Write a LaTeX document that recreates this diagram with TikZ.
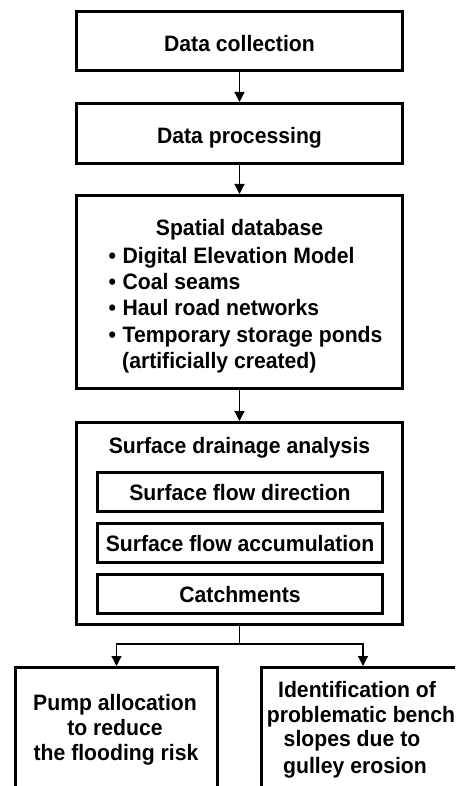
\documentclass[tikz,border=0pt]{standalone}
\usepackage{fontspec}
\setmainfont{Liberation Sans}
\usetikzlibrary{arrows.meta}
\newcommand{\sxtext}[1]{\scalebox{0.95}[1]{#1}}
\tikzset{
  box/.style={draw=black, line width=3pt, rectangle, inner sep=0pt, fill=white},
  lbl/.style={inner sep=0pt, anchor=base, font=\fontsize{22.3}{26}\selectfont\bfseries},
  lbll/.style={lbl, anchor=base west},
  arr/.style={line width=1.2pt, -{Triangle[length=10pt,width=10pt]}},
  ln/.style={line width=1.2pt}
}
\begin{document}
\begin{tikzpicture}[x=1pt,y=-1pt]
\path[use as bounding box, clip] (0,0) rectangle (455,786);
\fill[white] (0,0) rectangle (455,786);
% boxes
\node[box, minimum width=326pt, minimum height=59pt] (b1) at (239.5,41) {};
\node[box, minimum width=326pt, minimum height=60pt] (b2) at (239.5,133.5) {};
\node[box, minimum width=326pt, minimum height=193pt] (b3) at (239.5,292) {};
\node[box, minimum width=326pt, minimum height=202pt] (b4) at (239.5,523.5) {};
\node[box, minimum width=285pt, minimum height=39pt] (i1) at (240,492) {};
\node[box, minimum width=285pt, minimum height=39pt] (i2) at (240,543) {};
\node[box, minimum width=285pt, minimum height=39pt] (i3) at (240,594) {};
\node[box, minimum width=202pt, minimum height=160pt] (l) at (116.5,747.5) {};
\node[box, minimum width=203pt, minimum height=160pt] (r) at (363,747.5) {};
% texts
\node[lbl] (t1) at (239.5,52) {\sxtext{Data collection}};
\node[lbl] (t2) at (239.5,143.3) {\sxtext{Data processing}};
\node[lbl] (t3) at (239.5,235) {\sxtext{Spatial database}};
\node[lbll] (t3a) at (108.4,263.3) {\sxtext{•\hspace{7pt}Digital Elevation Model}};
\node[lbll] (t3b) at (108.4,289.3) {\sxtext{•\hspace{7pt}Coal seams}};
\node[lbll] (t3c) at (108.4,315.7) {\sxtext{•\hspace{7pt}Haul road networks}};
\node[lbll] (t3d) at (108.4,342.3) {\sxtext{•\hspace{7pt}Temporary storage ponds}};
\node[lbll] (t3e) at (122,368.3) {\sxtext{(artificially created)}};
\node[lbl] (t4) at (239.5,453.3) {\sxtext{Surface drainage analysis}};
\node[lbl] (ti1) at (240,500) {\sxtext{Surface flow direction}};
\node[lbl] (ti2) at (240,551.7) {\sxtext{Surface flow accumulation}};
\node[lbl] (ti3) at (240,602.3) {\sxtext{Catchments}};
\node[lbl] (tl1) at (115,710) {\sxtext{Pump allocation}};
\node[lbl] (tl2) at (115,735.7) {\sxtext{to reduce}};
\node[lbl] (tl3) at (116,760.7) {\sxtext{the flooding risk}};
\node[lbl] (tr1) at (357,697.3) {\sxtext{Identification of}};
\node[lbl] (tr2) at (361,722.3) {\sxtext{problematic bench}};
\node[lbl] (tr3) at (352,746.7) {\sxtext{slopes due to}};
\node[lbl] (tr4) at (355,773.3) {\sxtext{gulley erosion}};
% connectors
\draw[arr] (b1.south) -- (b2.north);
\draw[arr] (b2.south) -- (b3.north);
\draw[arr] (b3.south) -- (b4.north);
\coordinate (j) at (239.5,644);
\draw[ln] (b4.south) -- (j);
\draw[arr] (j) -| (l.north);
\draw[arr] (j) -| (r.north);
\end{tikzpicture}
\end{document}
